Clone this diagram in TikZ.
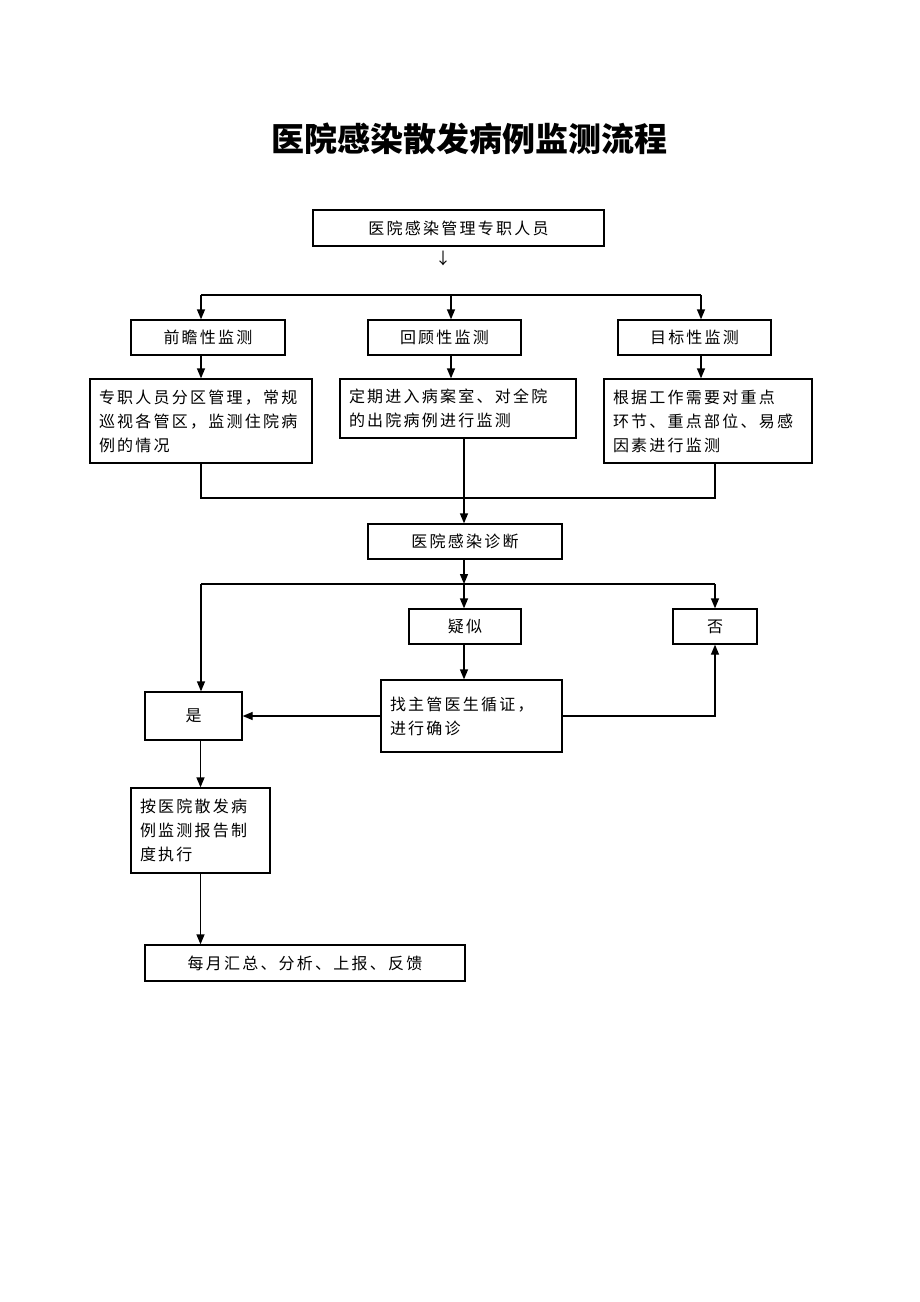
\documentclass[tikz,border=0pt]{standalone}
\usepackage{fontspec}
\setmainfont{Noto Sans CJK SC}
\newfontfamily\boxfont{Noto Sans CJK SC}[LetterSpace=14]
\usetikzlibrary{arrows.meta}

\begin{document}
\begin{tikzpicture}
  [x=1pt,y=-1pt,
   box/.style={draw,line width=1.3pt,inner sep=0pt,
     font=\boxfont\fontsize{16}{24}\selectfont},
   txtbox/.style={box,align=left,inner xsep=9pt},
   flow/.style={line width=1.3pt},
   arr/.style={flow,-{Triangle[length=10pt,width=8pt]}}
  ]
  \useasboundingbox[fill=white] (0,0) rectangle (920,1302);

  % title
  \node[font=\fontsize{33}{33}\selectfont\bfseries] (title) at (469,139)
    {医院感染散发病例监测流程};

  % first rows
  \node[box,minimum width=291pt,minimum height=36pt] (staff) at (458.5,228)
    {医院感染管理专职人员};
  \node[font=\fontsize{16}{16}\selectfont] (down) at (443,258) {↓};
  \node[box,minimum width=154pt,minimum height=35pt] (pro) at (208,337.5)
    {前瞻性监测};
  \node[box,minimum width=153pt,minimum height=35pt] (retro) at (444.5,337.5)
    {回顾性监测};
  \node[box,minimum width=153pt,minimum height=35pt] (target) at (694.5,337.5)
    {目标性监测};
  \node[txtbox,text width=204pt,minimum height=84pt] (patrol) at (201,421)
    {专职人员分区管理，常规\\巡视各管区，监测住院病\\例的情况};
  \node[txtbox,text width=218pt,minimum height=59pt] (record) at (458,408.5)
    {定期进入病案室、对全院\\的出院病例进行监测};
  \node[txtbox,text width=190pt,minimum height=84pt] (focus) at (708,421)
    {根据工作需要对重点\\环节、重点部位、易感\\因素进行监测};

  % diagnosis
  \node[box,minimum width=194pt,minimum height=35pt] (diag) at (465,541.5)
    {医院感染诊断};
  \node[box,minimum width=112pt,minimum height=35pt] (susp) at (465,626.5)
    {疑似};
  \node[box,minimum width=84pt,minimum height=35pt] (no) at (715,626.5)
    {否};
  \node[txtbox,text width=163pt,minimum height=72pt] (conf) at (471.5,716)
    {找主管医生循证，\\进行确诊};
  \node[box,minimum width=97pt,minimum height=48pt] (yes) at (193.5,716)
    {是};
  \node[txtbox,text width=121pt,minimum height=85pt] (exec) at (200.5,830.5)
    {按医院散发病\\例监测报告制\\度执行};
  \node[box,minimum width=320pt,minimum height=36pt] (report) at (305,963)
    {每月汇总、分析、上报、反馈};

  % junctions
  \coordinate (splitl) at (201,295);
  \coordinate (splitm) at (451,295);
  \coordinate (splitr) at (701,295);
  \coordinate (mergel) at (201,498);
  \coordinate (mergem) at (464,498);
  \coordinate (merger) at (715,498);
  \coordinate (forkl) at (201,584);
  \coordinate (forkm) at (464,584);
  \coordinate (forkr) at (715,584);

  % connectors
  \draw[flow] (splitl) -- (splitr);
  \draw[arr] (splitl) -- (splitl |- pro.north);
  \draw[arr] (splitm) -- (splitm |- retro.north);
  \draw[arr] (splitr) -- (splitr |- target.north);
  \draw[arr] (pro.south -| splitl) -- (splitl |- patrol.north);
  \draw[arr] (retro.south -| splitm) -- (splitm |- record.north);
  \draw[arr] (target.south -| splitr) -- (splitr |- focus.north);
  \draw[flow] (patrol.south -| mergel) -- (mergel) -- (merger)
    -- (focus.south -| merger);
  \draw[arr] (record.south -| mergem) -- (mergem |- diag.north);
  \draw[arr] (diag.south -| forkm) -- (forkm);
  \draw[flow] (forkl) -- (forkr);
  \draw[arr] (forkl) -- (forkl |- yes.north);
  \draw[arr] (forkm) -- (forkm |- susp.north);
  \draw[arr] (forkr) -- (no.north);
  \draw[arr] (susp.south -| forkm) -- (forkm |- conf.north);
  \draw[arr] (conf.west) -- (yes.east);
  \draw[arr] (conf.east) -| (no.south);
  \draw[arr] (exec.north |- yes.south) -- (exec.north);
  \draw[arr] (exec.south) -- (exec.south |- report.north);
\end{tikzpicture}
\end{document}
